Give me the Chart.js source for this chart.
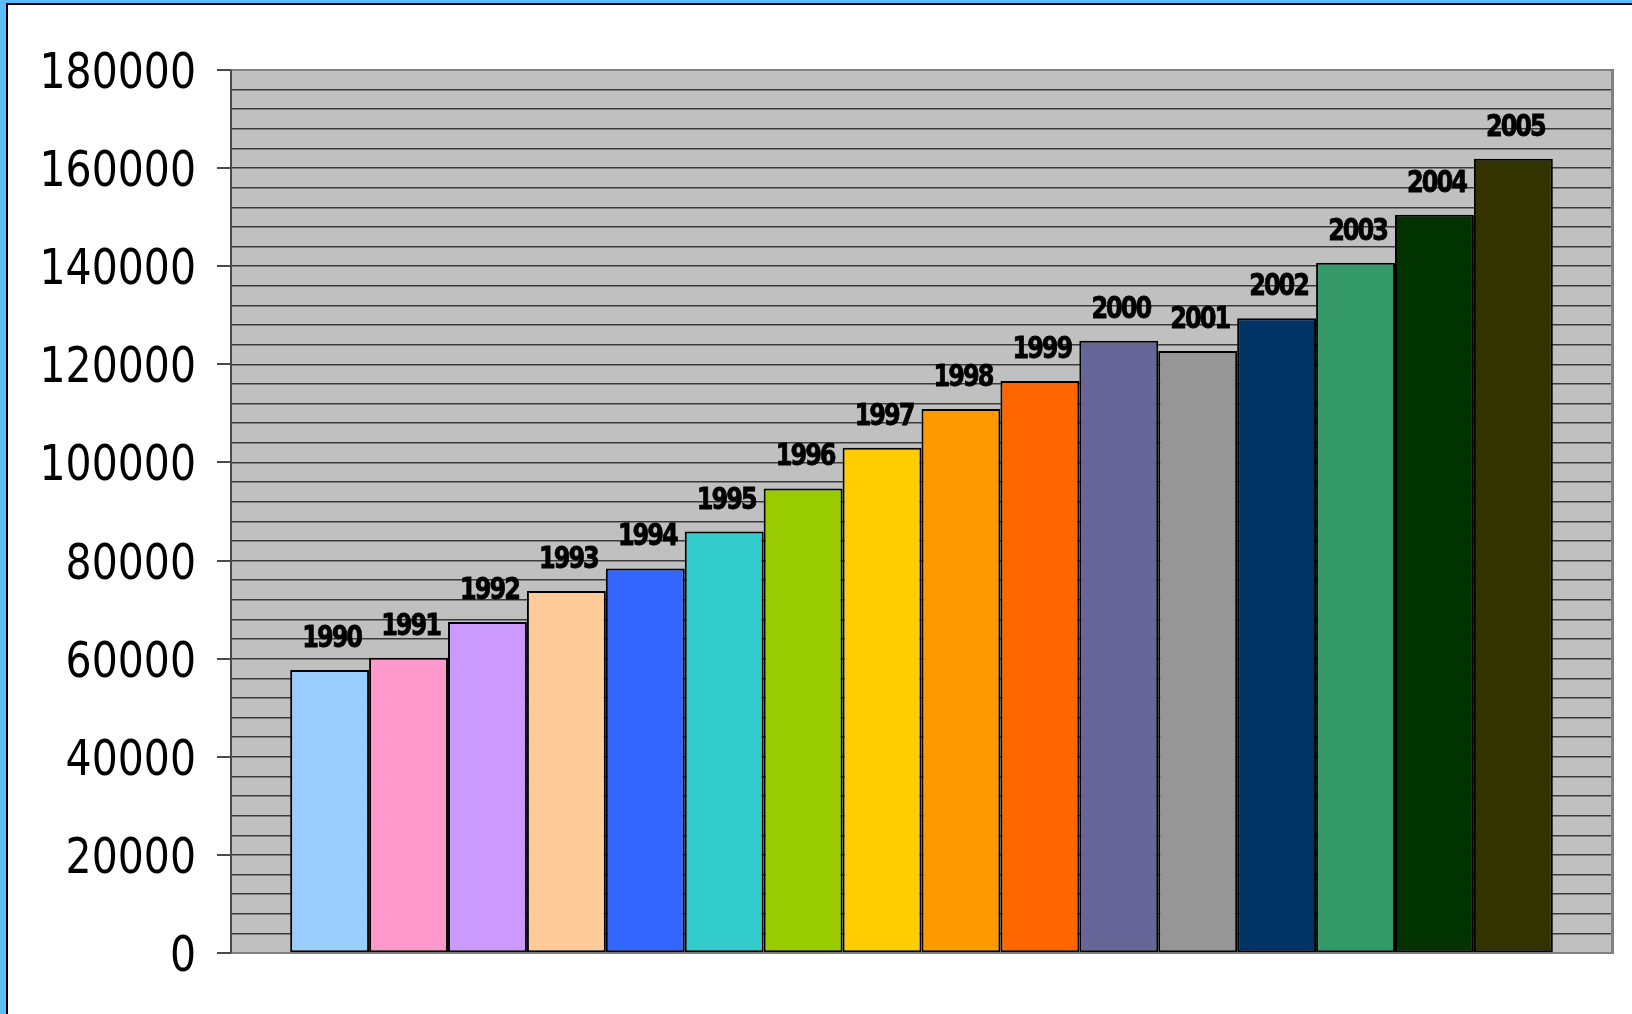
<!DOCTYPE html>
<html>
<head>
<meta charset="utf-8">
<title>1990 - 2005</title>
<script src="https://cdn.jsdelivr.net/npm/chart.js@4/dist/chart.umd.min.js"></script>
<style>
  html, body { margin: 0; padding: 0; background: #fff; }
  canvas { display: block; }
</style>
</head>
<body>
<canvas id="yearChart" width="1632" height="1014"></canvas>
<script>
'use strict';

// ── DATA ─────────────────────────────────────────────────────────
var years  = ['1990', '1991', '1992', '1993', '1994', '1995', '1996', '1997',
              '1998', '1999', '2000', '2001', '2002', '2003', '2004', '2005'];
var values = [57700, 60200, 67500, 73800, 78400, 85900, 94700, 103000,
              110900, 116600, 124800, 122700, 129400, 140700, 150500, 161900];
var barColors = ['#99ccff', '#ff99cc', '#cc99ff', '#ffcc99', '#3366ff', '#33cccc',
                 '#99cc00', '#ffcc00', '#ff9900', '#ff6600', '#666699', '#969696',
                 '#003366', '#339966', '#003300', '#333300'];
var yTickLabels = ['0', '20000', '40000', '60000', '80000', '100000',
                   '120000', '140000', '160000', '180000'];

var Y_MAX   = 180000;
var Y_MINOR = 4000;
var Y_MAJOR = 20000;

// ── PLUGIN: frame, plot background, borders, labels ──────────────
var decorPlugin = {
  id: 'decor',
  beforeDraw: function (chart) {
    var ctx = chart.ctx;
    var a   = chart.chartArea;
    ctx.save();
    ctx.fillStyle = '#ffffff';
    ctx.fillRect(0, 0, chart.width, chart.height);

    // outer frame (blue + black)
    ctx.fillStyle = '#5bbdfd';
    ctx.fillRect(0, 0, 6, chart.height);
    ctx.fillRect(0, 0, chart.width, 3);
    ctx.fillStyle = '#000000';
    ctx.fillRect(6, 3, 2, chart.height);
    ctx.fillRect(6, 3, chart.width, 2);

    // plot background
    ctx.fillStyle = '#c0c0c0';
    ctx.fillRect(a.left, a.top, a.right - a.left, a.bottom - a.top);
    ctx.restore();
  },
  beforeDatasetsDraw: function (chart) {
    var ctx = chart.ctx;
    var a   = chart.chartArea;
    ctx.save();
    ctx.fillStyle = '#808080';
    ctx.fillRect(a.left, a.top - 1, a.right - a.left + 2, 2);   // top
    ctx.fillRect(a.right - 1, a.top - 1, 3, a.bottom - a.top + 2); // right
    ctx.fillRect(a.left - 14, a.bottom - 1, a.right - a.left + 16, 2); // bottom
    ctx.fillStyle = '#4a4a4a';
    ctx.fillRect(a.left - 1, a.top, 2, a.bottom - a.top);     // left axis
    ctx.restore();
  },
  afterDraw: function (chart) {
    var ctx    = chart.ctx;
    var a      = chart.chartArea;
    var yScale = chart.scales.y;

    // y-axis major ticks and labels
    ctx.save();
    ctx.fillStyle = '#000';
    ctx.font = '41px "DejaVu Sans", sans-serif';
    ctx.textAlign = 'right';
    ctx.textBaseline = 'alphabetic';
    yTickLabels.forEach(function (label, i) {
      var y = yScale.getPixelForValue(i * Y_MAJOR);
      ctx.fillStyle = '#4a4a4a';
      ctx.fillRect(a.left - 14, Math.round(y) - 1, 14, 2);
      ctx.fillStyle = '#000';
      ctx.save();
      ctx.translate(a.left - 35, y);
      ctx.scale(1, 1.2);
      ctx.fillText(label, 0, 15);
      ctx.restore();
    });
    ctx.restore();

    // year label above each bar
    ctx.save();
    ctx.fillStyle = '#000';
    ctx.strokeStyle = '#000';
    ctx.lineWidth = 0.7;
    ctx.font = 'bold 24px "DejaVu Sans", sans-serif';
    ctx.textAlign = 'center';
    ctx.textBaseline = 'alphabetic';
    ctx.letterSpacing = '-2px';
    chart.data.datasets.forEach(function (ds, i) {
      var bar = chart.getDatasetMeta(i).data[0];
      ctx.save();
      ctx.translate(bar.x + 2, bar.y - 23);
      ctx.scale(1, 1.22);
      ctx.fillText(ds.label, 0, 0);
      ctx.strokeText(ds.label, 0, 0);
      ctx.restore();
    });
    ctx.restore();
  }
};

// ── CHART ────────────────────────────────────────────────────────
var datasets = years.map(function (year, i) {
  return {
    label          : year,
    data           : [values[i]],
    backgroundColor: barColors[i],
    borderColor    : '#000000',
    borderWidth    : 2,
    borderSkipped  : false
  };
});

new Chart(document.getElementById('yearChart'), {
  type: 'bar',
  data: { labels: [''], datasets: datasets },
  options: {
    responsive : false,
    animation  : false,
    categoryPercentage: 0.9143,
    barPercentage     : 1.0,
    layout: { padding: { top: 70, right: 20, bottom: 61, left: 0 } },
    plugins: {
      legend : { display: false },
      tooltip: { enabled: false }
    },
    scales: {
      x: { display: false },
      y: {
        min: 0,
        max: Y_MAX,
        border: { display: false },
        afterFit: function (scale) { scale.width = 231; },
        ticks: { display: false, stepSize: Y_MINOR },
        grid: {
          drawTicks: false,
          lineWidth: 1.5,
          color: function (c) {
            var v = c.tick && c.tick.value;
            return (v === 0 || v === Y_MAX) ? 'rgba(0,0,0,0)' : '#3a3a3a';
          }
        }
      }
    }
  },
  plugins: [decorPlugin]
});
</script>
</body>
</html>
